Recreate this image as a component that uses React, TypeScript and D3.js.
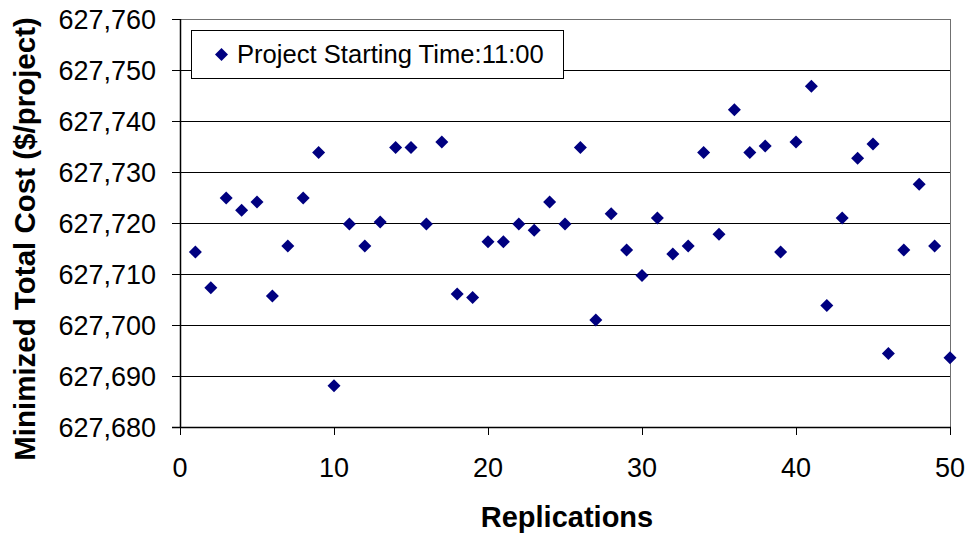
import React from "react";
import * as d3 from "d3";

const replications: number[] = d3.range(1, 51);
const costs: number[] = [
  714.3, 707.3, 724.9, 722.5, 724.1, 705.7, 715.5, 724.9, 733.8, 688.1,
  719.8, 715.5, 720.2, 734.8, 734.8, 719.8, 735.9, 706.1, 705.4, 716.3,
  716.3, 719.8, 718.6, 724.1, 719.8, 734.8, 701.0, 721.8, 714.7, 709.7,
  721.0, 713.9, 715.5, 733.8, 717.8, 742.2, 733.8, 735.1, 714.3, 735.9,
  746.8, 703.8, 721.0, 732.7, 735.5, 694.4, 714.7, 727.6, 715.5, 693.6,
].map((v) => 627000 + v);
const xTicks: number[] = [0, 10, 20, 30, 40, 50];
const yTicks: number[] = [627680, 627690, 627700, 627710, 627720, 627730, 627740, 627750, 627760];
const seriesName = "Project Starting Time:11:00";
const xTitle = "Replications";
const yTitle = "Minimized Total Cost ($/project)";

const W = 971;
const H = 535;
const left = 180;
const right = 950;
const top = 19;
const bottom = 427;
const font = "'Liberation Sans', Arial, Helvetica, sans-serif";
const navy = "#000080";

export default function App() {
  const x = d3.scaleLinear().domain([0, 50]).range([left, right]);
  const y = d3.scaleLinear().domain([627680, 627760]).range([bottom, top]);
  const fmt = d3.format(",");
  const diamond = (cx: number, cy: number, r: number) =>
    `M${cx},${cy - r}L${cx + r},${cy}L${cx},${cy + r}L${cx - r},${cy}Z`;
  const snap = (v: number) => Math.round(v) + 0.5;

  return (
    <svg
      width={W}
      height={H}
      style={{ position: "absolute", left: 0, top: 0, background: "#fff" }}
    >
      <rect x={0} y={0} width={W} height={H} fill="#fff" />
      {/* gridlines */}
      {yTicks.slice(0, -1).map((t) => (
        <line key={t} x1={left} x2={right} y1={snap(y(t))} y2={snap(y(t))} stroke="#000" strokeWidth={1} />
      ))}
      {/* plot border top & right */}
      <line x1={left} x2={right} y1={snap(top)} y2={snap(top)} stroke="#707070" strokeWidth={1} />
      <line x1={snap(right)} x2={snap(right)} y1={top} y2={bottom} stroke="#707070" strokeWidth={1} />
      {/* axes */}
      <line x1={snap(left)} x2={snap(left)} y1={top} y2={bottom + 1} stroke="#000" strokeWidth={1.5} />
      <line x1={left - 8} x2={right + 1} y1={snap(bottom)} y2={snap(bottom)} stroke="#000" strokeWidth={1.5} />
      {yTicks.map((t) => (
        <g key={t}>
          <line x1={left - 8} x2={left} y1={snap(y(t))} y2={snap(y(t))} stroke="#000" strokeWidth={1} />
          <text
            x={156}
            y={y(t)}
            dy="0.36em"
            textAnchor="end"
            fontFamily={font}
            fontSize={27}
            fill="#000"
          >
            {fmt(t)}
          </text>
        </g>
      ))}
      {xTicks.map((t) => (
        <g key={t}>
          <line x1={snap(x(t))} x2={snap(x(t))} y1={bottom} y2={bottom + 8} stroke="#000" strokeWidth={1} />
          <text
            x={x(t)}
            y={477}
            textAnchor="middle"
            fontFamily={font}
            fontSize={27}
            fill="#000"
          >
            {t}
          </text>
        </g>
      ))}
      {/* titles */}
      <text
        x={567}
        y={527}
        textAnchor="middle"
        fontFamily={font}
        fontSize={29}
        fontWeight="bold"
        fill="#000"
      >
        {xTitle}
      </text>
      <text
        transform={`translate(35,${239}) rotate(-90)`}
        textAnchor="middle"
        fontFamily={font}
        fontSize={29.5}
        fontWeight="bold"
        fill="#000"
      >
        {yTitle}
      </text>
      {/* points */}
      {replications.map((r, i) => (
        <path key={r} d={diamond(x(r), y(costs[i]), 6.5)} fill={navy} />
      ))}
      {/* legend */}
      <rect x={191.5} y={30.5} width={372} height={48} fill="#fff" stroke="#000" strokeWidth={1} />
      <path d={diamond(221.5, 54.5, 6.5)} fill={navy} />
      <text x={237} y={63} fontFamily={font} fontSize={25.6} fill="#000">
        {seriesName}
      </text>
    </svg>
  );
}
